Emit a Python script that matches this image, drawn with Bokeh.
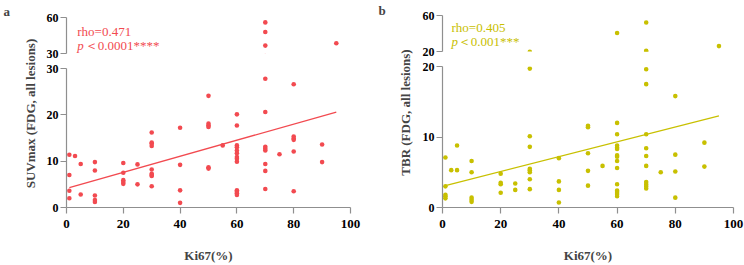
import math
from bokeh.plotting import figure
from bokeh.layouts import row, column
from bokeh.models import Range1d, FixedTicker, Label
from bokeh.embed import file_html
from bokeh.resources import INLINE

# ---------------- data ----------------
suv_x = [1, 1, 1, 1, 3, 5, 5, 10, 10, 10, 10, 10,
         20, 20, 20, 20, 20, 25, 25,
         30, 30, 30, 30, 30, 30, 30, 30, 30,
         40, 40, 40, 40,
         50, 50, 50, 50, 50, 50, 55,
         60, 60, 60, 60, 60, 60, 60, 60, 60, 60, 60, 60, 60,
         70, 70, 70, 70, 70, 70, 70, 70, 70, 70, 70, 75,
         80, 80, 80, 80, 80, 80, 90, 90, 95]
suv_y = [11.4, 7.0, 3.6, 2.0, 11.1, 9.4, 2.8, 9.8, 8.0, 2.6, 1.6, 1.2,
         9.6, 7.5, 5.9, 5.5, 5.1, 9.3, 5.0,
         16.2, 14.0, 13.8, 13.3, 8.2, 7.3, 7.0, 6.8, 4.6,
         17.2, 9.2, 3.7, 1.0,
         24.1, 18.1, 17.7, 17.4, 8.7, 8.4, 13.4,
         20.1, 17.7, 13.4, 13.0, 12.3, 11.7, 10.9, 10.5, 9.9, 3.7, 3.4, 3.1, 2.7,
         55.9, 47.9, 36.6, 27.8, 20.6, 13.1, 12.7, 12.3, 9.4, 7.9, 4.0, 11.5,
         26.6, 15.3, 14.9, 14.6, 12.1, 3.5, 13.6, 9.8, 38.6]
suv_trend_x = [1, 95]
suv_trend_y = [4.3, 20.6]

tbr_x = [1, 1, 1, 1, 1, 3, 5, 5, 10, 10, 10, 10, 10,
         20, 20, 20, 20, 25, 25,
         30, 30, 30, 30, 30, 30, 30, 30,
         40, 40, 40, 40,
         50, 50, 50, 50, 50, 55,
         60, 60, 60, 60, 60, 60, 60, 60, 60, 60, 60, 60, 60, 60, 60,
         70, 70, 70, 70, 70, 70, 70, 70, 70, 70, 70, 70, 75,
         80, 80, 80, 80, 90, 90, 95]
tbr_y = [7.1, 3.0, 1.8, 1.6, 1.3, 5.3, 8.8, 5.3, 6.6, 5.0, 1.4, 1.1, 0.8,
         4.8, 3.5, 3.3, 2.1, 3.4, 2.5,
         19.7, 10.1, 8.6, 5.5, 5.3, 5.0, 4.0, 2.6,
         7.0, 3.7, 2.5, 0.7,
         11.6, 11.4, 7.7, 5.2, 3.1, 5.9,
         40.6, 12.0, 10.4, 8.8, 8.5, 8.3, 7.4, 7.2, 6.6, 5.6, 3.3, 2.4, 2.2, 1.9, 1.6,
         52.2, 20.8, 19.6, 17.5, 10.4, 8.4, 7.3, 5.9, 3.6, 3.3, 3.0, 2.7, 5.0,
         15.8, 7.5, 5.1, 1.4, 9.2, 5.8, 26.0]
tbr_trend_x = [1, 95]
tbr_trend_y = [3.1, 13.0]

x_ticks = [0, 20, 40, 60, 80, 100]
suv_lower_ticks = [0, 10, 20, 30]
suv_upper_ticks = [30, 60]
tbr_lower_ticks = [0, 10, 20]
tbr_upper_ticks = [20, 60]

RED = "#f24a50"
YEL = "#c8c000"
AXIS = "#8f8f8f"
FONT = "Liberation Serif"


def base_fig(w, h, left, right, top, bottom, xr, yr, show_x):
    p = figure(width=w, height=h, x_range=xr, y_range=yr,
               toolbar_location=None, output_backend="svg",
               x_axis_location="below" if show_x else None,
               min_border_left=left, min_border_right=right,
               min_border_top=top, min_border_bottom=bottom)
    p.title = None
    p.outline_line_color = None
    p.grid.visible = False
    p.background_fill_color = "white"
    p.border_fill_color = "white"
    return p


def style_axis(ax, ticks, size, standoff):
    ax.ticker = FixedTicker(ticks=ticks)
    ax.axis_line_color = AXIS
    ax.axis_line_width = 1.2
    ax.major_tick_line_color = AXIS
    ax.major_tick_line_width = 1.2
    ax.minor_tick_line_color = None
    ax.major_tick_out = 6
    ax.major_tick_in = 0
    ax.major_label_standoff = standoff
    ax.major_label_text_font = FONT
    ax.major_label_text_font_style = "bold"
    ax.major_label_text_font_size = size
    ax.major_label_text_color = "black"


def label_fig(w, letter, letter_x, letter_base, ylabel, ylabel_x, ylabel_y):
    f = figure(width=w, height=265, x_range=Range1d(0, 1), y_range=Range1d(0, 1),
               toolbar_location=None, output_backend="svg",
               x_axis_location=None, y_axis_location=None,
               min_border_left=0, min_border_right=0,
               min_border_top=0, min_border_bottom=0)
    f.title = None
    f.outline_line_color = None
    f.grid.visible = False
    f.add_layout(Label(x=letter_x, y=265 - letter_base, x_units="screen", y_units="screen",
                       text=letter, text_font=FONT, text_font_style="bold",
                       text_font_size="13px", text_baseline="alphabetic", text_align="left"))
    f.add_layout(Label(x=ylabel_x, y=265 - ylabel_y, x_units="screen", y_units="screen",
                       text=ylabel, angle=math.pi / 2, text_font=FONT,
                       text_font_style="bold", text_font_size="13px",
                       text_align="center", text_baseline="middle"))
    return f


def panel(xs, ys, color, tx, ty, lower_ticks, upper_ticks, lo_max, up_min, up_max,
          w, left, right, up_h, up_top, up_bot, lo_h, lo_top, lo_bot,
          rho, ptxt, rho_xy, p_xy, lt_x):
    xr = Range1d(0, 100)
    up = base_fig(w, up_h, left, right, up_top, up_bot, xr, Range1d(up_min, up_max), False)
    lo = base_fig(w, lo_h, left, right, lo_top, lo_bot, xr, Range1d(0, lo_max), True)
    for p in (up, lo):
        p.scatter(xs, ys, size=4.6, color=color, line_color=None)
    lo.line(tx, ty, line_color=color, line_width=1.3)
    style_axis(up.yaxis[0], upper_ticks, "12px", 2)
    style_axis(lo.yaxis[0], lower_ticks, "12px", 2)
    style_axis(lo.xaxis[0], x_ticks, "13px", 6)
    lo.xaxis[0].axis_label = "Ki67(%)"
    lo.xaxis[0].axis_label_text_font = FONT
    lo.xaxis[0].axis_label_text_font_style = "bold"
    lo.xaxis[0].axis_label_text_font_size = "13px"
    lo.xaxis[0].axis_label_standoff = 17
    up.add_layout(Label(x=rho_xy[0], y=rho_xy[1], text=rho, text_color=color,
                        text_font=FONT, text_font_size="13px", text_baseline="middle"))
    up.add_layout(Label(x=p_xy[0], y=p_xy[1], text="p", text_color=color,
                        text_font=FONT, text_font_style="italic", text_font_size="13px",
                        text_baseline="middle"))
    up.add_layout(Label(x=lt_x, y=p_xy[1], text=ptxt, text_color=color,
                        text_font=FONT, text_font_size="13px", text_baseline="middle"))
    return column(up, lo, spacing=0)


left_panel = panel(suv_x, suv_y, RED, suv_trend_x, suv_trend_y,
                   suv_lower_ticks, suv_upper_ticks, 30, 30, 60,
                   332, 26, 22, 61, 17, 8, 204, 7, 56,
                   "rho=0.471", "＜0.0001****", (3.8, 48.3), (3.8, 36.4), 6.4)
right_panel = panel(tbr_x, tbr_y, YEL, tbr_trend_x, tbr_trend_y,
                    tbr_lower_ticks, tbr_upper_ticks, 20, 20, 60,
                    330, 28, 11, 58, 15, 7, 207, 8, 56,
                    "rho=0.405", "＜0.001***", (3.1, 47.0), (3.1, 30.8), 5.2)

lab_a = label_fig(40, "a", 3, 11, "SUVmax (FDG, all lesions)", 30, 113)
lab_b = label_fig(42, "b", 6, 10, "TBR (FDG, all lesions)", 33, 112)

layout = row(lab_a, left_panel, lab_b, right_panel, spacing=0)

open("out.html", "w").write(file_html(layout, INLINE))
